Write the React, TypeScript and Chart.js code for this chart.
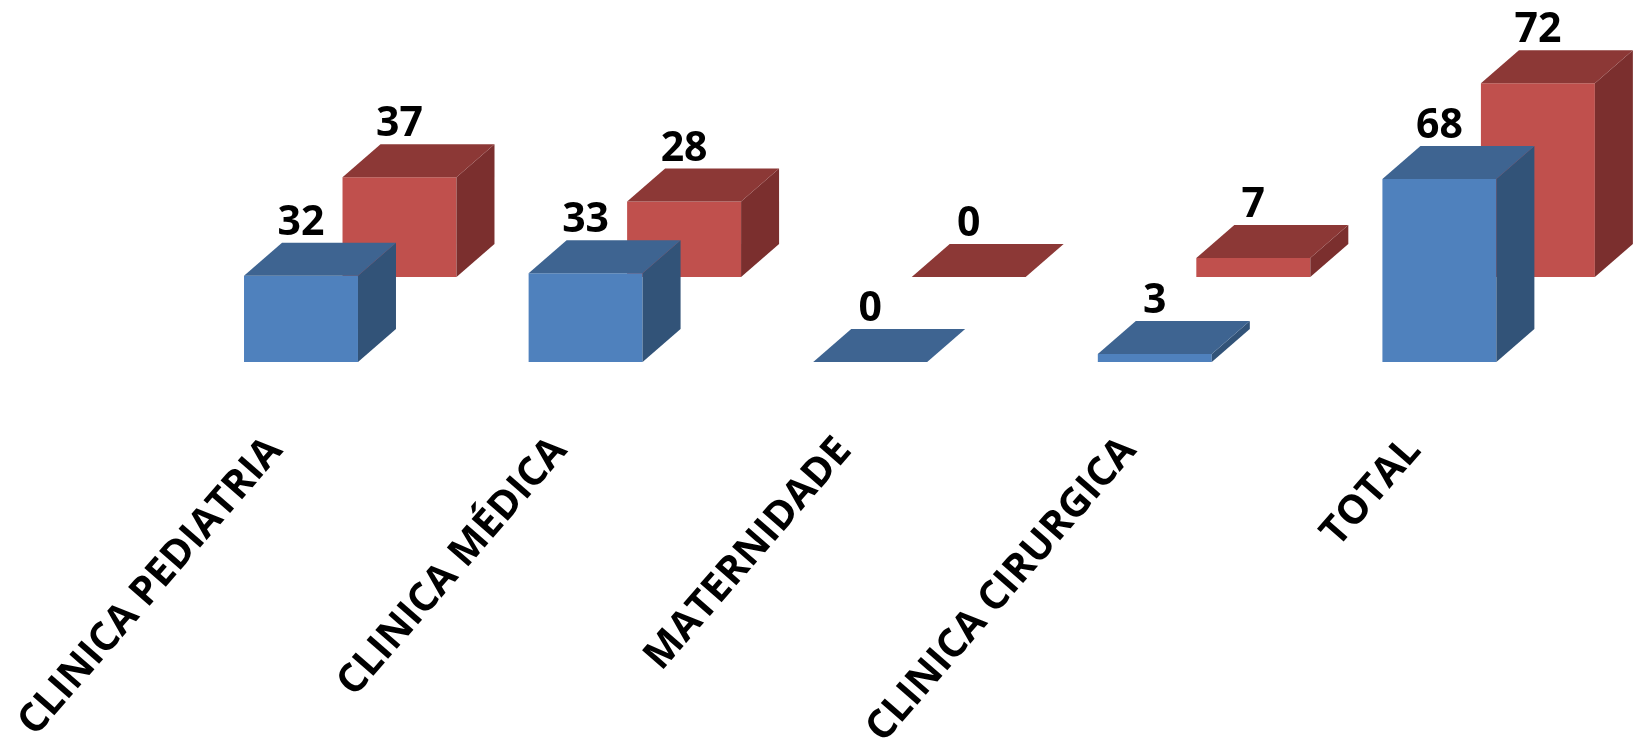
import React, { useEffect, useRef } from "react";
import { Chart, registerables } from "chart.js";

Chart.register(...registerables);

const categories = ["CLINICA PEDIATRIA", "CLINICA MÉDICA", "MATERNIDADE", "CLINICA CIRURGICA", "TOTAL"];
const seriesA = [32, 33, 0, 3, 68];
const seriesB = [37, 28, 0, 7, 72];

const DEPTH_X = 38;
const DEPTH_Y = 33;
const FACES = [
  { side: "#325378", top: "#3E6491" },
  { side: "#7B2F2E", top: "#8C3836" },
];

const box3d = {
  id: "box3d",
  afterDatasetDraw(chart: any, args: any) {
    const ctx = chart.ctx;
    const faces = FACES[args.index];
    const poly = (pts: number[][], color: string) => {
      ctx.beginPath();
      pts.forEach((p, i) => (i ? ctx.lineTo(p[0], p[1]) : ctx.moveTo(p[0], p[1])));
      ctx.closePath();
      ctx.fillStyle = color;
      ctx.fill();
    };
    ctx.save();
    args.meta.data.forEach((el: any) => {
      const l = el.x - el.width / 2;
      const r = el.x + el.width / 2;
      if (el.base - el.y > 0.5) {
        poly([[r, el.y], [r + DEPTH_X, el.y - DEPTH_Y], [r + DEPTH_X, el.base - DEPTH_Y], [r, el.base]], faces.side);
      }
      poly([[l, el.y], [l + DEPTH_X, el.y - DEPTH_Y], [r + DEPTH_X, el.y - DEPTH_Y], [r, el.y]], faces.top);
    });
    ctx.restore();
  },
  afterDatasetsDraw(chart: any) {
    const ctx = chart.ctx;
    ctx.save();
    ctx.fillStyle = "#000";
    ctx.font = 'bold 41px "Open Sans"';
    ctx.textAlign = "center";
    ctx.textBaseline = "alphabetic";
    chart.data.datasets.forEach((ds: any, i: number) => {
      chart.getDatasetMeta(i).data.forEach((el: any, j: number) => {
        ctx.fillText(String(ds.data[j]), el.x, el.y - DEPTH_Y - 8);
      });
    });
    ctx.restore();
  },
};

export default function App() {
  const ref = useRef<HTMLCanvasElement>(null);
  useEffect(() => {
    const chart = new Chart(ref.current!, {
      type: "bar",
      data: {
        labels: categories,
        datasets: [
          { label: "A", data: seriesA, backgroundColor: "#4F81BD", borderWidth: 0, yAxisID: "y" },
          { label: "B", data: seriesB, backgroundColor: "#C0504D", borderWidth: 0, yAxisID: "y2" },
        ],
      },
      options: {
        responsive: false,
        animation: false,
        categoryPercentage: 0.6922,
        barPercentage: 1.157,
        layout: { padding: { left: 207.95, right: 2.05, top: 39, bottom: 0 } },
        plugins: { legend: { display: false }, tooltip: { enabled: false } },
        scales: {
          x: {
            grid: { display: false },
            border: { display: false },
            afterFit: (s: any) => {
              s.height = 379;
              s.paddingLeft = 0;
              s.paddingRight = 0;
            },
            ticks: {
              autoSkip: false,
              minRotation: 49,
              maxRotation: 49,
              padding: 58,
              labelOffset: -75,
              color: "#000",
              font: { family: '"Open Sans"', weight: "bold", size: 40 },
            },
          },
          y: { display: false, min: 0, max: 120 },
          y2: { display: false, min: -31.6, max: 88.4 },
        },
      },
      plugins: [box3d],
    } as any);
    return () => chart.destroy();
  }, []);
  return (
    <div style={{ position: "absolute", left: 0, top: 0, width: 1633, height: 741, background: "#fff" }}>
      <canvas ref={ref} width={1633} height={741} style={{ display: "block", filter: "blur(0.6px)" }} />
    </div>
  );
}
